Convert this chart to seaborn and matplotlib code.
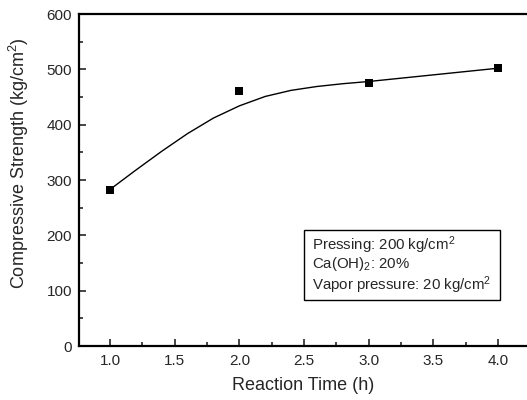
import matplotlib
matplotlib.use("Agg")
import matplotlib.pyplot as plt
from matplotlib.patches import Rectangle
import seaborn as sns

# measured data points
time_h = [1.0, 2.0, 3.0, 4.0]
strength = [282, 460, 476, 502]

# smooth fitted curve
curve_x = [1.0, 1.2, 1.4, 1.6, 1.8, 2.0, 2.2, 2.4, 2.6, 2.8, 3.0, 3.5, 4.0]
curve_y = [283, 318, 352, 384, 412, 434, 451, 462, 469, 474, 478, 490, 502]

box_lines = [r"Pressing: 200 kg/cm$^2$", r"Ca(OH)$_2$: 20%", r"Vapor pressure: 20 kg/cm$^2$"]

sns.set_style("ticks")
plt.rcParams['font.family'] = ['Liberation Sans', 'DejaVu Sans']
plt.rcParams['mathtext.fontset'] = 'custom'
plt.rcParams['mathtext.rm'] = 'Liberation Sans'
plt.rcParams['mathtext.it'] = 'Liberation Sans'
plt.rcParams['mathtext.default'] = 'rm'

fig = plt.figure(figsize=(5.27, 4.0), dpi=100)
ax = fig.add_axes([0.150, 0.135, 0.850, 0.830])

sns.lineplot(x=curve_x, y=curve_y, ax=ax, color='black', linewidth=1.0)
sns.scatterplot(x=time_h, y=strength, ax=ax, marker='s', color='black', s=40,
                edgecolor='black', linewidth=0, zorder=3)

ax.set_xlim(0.76, 4.225)
ax.set_ylim(0, 600)
ax.set_xticks([1.0, 1.5, 2.0, 2.5, 3.0, 3.5, 4.0])
ax.set_xticklabels(["1.0", "1.5", "2.0", "2.5", "3.0", "3.5", "4.0"])
ax.set_yticks([0, 100, 200, 300, 400, 500, 600])
ax.set_xticks([1.25, 1.75, 2.25, 2.75, 3.25, 3.75], minor=True)
ax.set_yticks([50, 150, 250, 350, 450, 550], minor=True)
ax.tick_params(which='both', direction='in', top=False, right=False, labelsize=11, width=1.2)
ax.tick_params(which='major', length=5)
ax.tick_params(which='minor', length=3)
ax.tick_params(axis='y', pad=5)
ax.tick_params(axis='x', pad=6)

for s in ['left', 'bottom', 'top']:
    ax.spines[s].set_linewidth(1.6)
    ax.spines[s].set_color('black')
ax.spines['right'].set_visible(False)

ax.set_xlabel("Reaction Time (h)", fontsize=13, labelpad=6)
ax.set_ylabel(r"Compressive Strength (kg/cm$^2$)", fontsize=13)
ax.yaxis.set_label_coords(-0.107, 0.55)

# annotation box
fig.patches.append(Rectangle((304 / 527, 1 - 300 / 400), 196 / 527, 70 / 400,
                             transform=fig.transFigure, facecolor='white',
                             edgecolor='black', linewidth=1.0, zorder=5))
for line, ybase in zip(box_lines, [250, 268, 290]):
    fig.text(312 / 527, 1 - ybase / 400, line, fontsize=10.8, va='baseline', ha='left', zorder=6)

fig.savefig("out.png", dpi=100)
